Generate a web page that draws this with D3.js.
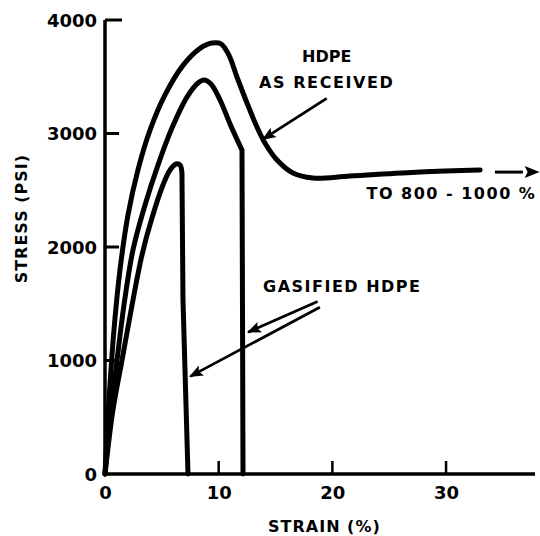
<!DOCTYPE html>
<html>
<head>
<meta charset="utf-8">
<script src="https://cdn.jsdelivr.net/npm/d3@7"></script>
<style>
  body { margin: 0; background: #fff; }
  .lbl { font-family: 'DejaVu Sans', sans-serif; font-weight: bold; fill: #000; }
</style>
</head>
<body>
<div id="chart"></div>
<script>
// tick values
const xTicks = [0, 10, 20, 30];
const yTicks = [0, 1000, 2000, 3000, 4000];

// HDPE as received  [strain %, stress psi]
const asReceived = [
  [0, 0], [0.35, 650], [0.79, 1270], [1.32, 1800], [2.02, 2280], [2.9, 2680],
  [3.96, 3030], [5.28, 3340], [6.86, 3600], [8.36, 3750], [9.41, 3797],
  [10.2, 3790], [10.9, 3690], [11.6, 3500], [12.49, 3269], [13.37, 3057],
  [14.07, 2916], [15.13, 2766], [16.53, 2652], [18.29, 2608], [21.55, 2625],
  [27.71, 2661], [33.0, 2678]
];

// gasified HDPE, two samples: rising part, then the break
const gasifiedA = [
  [0, 0], [0.53, 564], [1.06, 1004], [1.67, 1489], [2.46, 1973], [3.52, 2370],
  [4.66, 2722], [5.89, 3048], [7.21, 3321], [8.18, 3445], [8.71, 3471],
  [9.32, 3436], [10.12, 3295], [11.0, 3084], [12.05, 2854]
];
const gasifiedABreak = [[12.05, 2854], [12.14, 0]];

const gasifiedB = [
  [0, 0], [0.7, 564], [1.5, 1004], [2.38, 1489], [3.25, 1929], [4.13, 2255],
  [5.1, 2546], [5.72, 2678], [6.25, 2731], [6.6, 2722], [6.77, 2652]
];
const gasifiedBBreak = [[6.77, 2652], [6.86, 1533], [7.3, 0]];

// annotation arrows [from, to] in data units
const arrowHdpe = [[19.5, 3310], [13.9, 2950]];
const arrowGasUpper = [[18.7, 1520], [12.6, 1250]];
const arrowGasLower = [[18.9, 1470], [7.5, 860]];
const arrowExtend = [[34.3, 2660], [38.1, 2660]];

const width = 540, height = 536;
const margin = { top: 20, right: 3, bottom: 62, left: 105 };

const svg = d3.select('#chart').append('svg')
  .attr('width', width)
  .attr('height', height);

const x = d3.scaleLinear().domain([0, 38]).range([margin.left, width - margin.right]);
const y = d3.scaleLinear().domain([0, 4000]).range([height - margin.bottom, margin.top]);

// axes
const xAxis = svg.append('g')
  .attr('transform', `translate(0,${y(0)})`)
  .call(d3.axisBottom(x).tickValues(xTicks).tickSize(0).tickFormat(d3.format('d')));
xAxis.select('.domain').remove();
xAxis.selectAll('text').attr('class', 'lbl').attr('font-size', 18).attr('dy', '1.2em');

const yAxis = svg.append('g')
  .attr('transform', `translate(${x(0)},0)`)
  .call(d3.axisLeft(y).tickValues(yTicks).tickSize(0).tickPadding(8).tickFormat(d3.format('d')));
yAxis.select('.domain').remove();
yAxis.selectAll('text').attr('class', 'lbl').attr('font-size', 18).attr('dy', '0.36em');

// axis lines
svg.append('path')
  .attr('d', `M${x(0)},${y(4000)}V${y(0)}H${x(38) - 2}`)
  .attr('fill', 'none').attr('stroke', '#000').attr('stroke-width', 3.5);

// inward ticks
svg.selectAll('.ytick').data(yTicks.filter(d => d > 0)).enter().append('line')
  .attr('x1', x(0)).attr('x2', d => x(0) + (d === 4000 ? 17 : 14))
  .attr('y1', d => y(d)).attr('y2', d => y(d))
  .attr('stroke', '#000').attr('stroke-width', 3);
svg.selectAll('.xtick').data(xTicks.filter(d => d > 0)).enter().append('line')
  .attr('x1', d => x(d)).attr('x2', d => x(d))
  .attr('y1', y(0)).attr('y2', y(0) - 13)
  .attr('stroke', '#000').attr('stroke-width', 2.5);

// curves
const smooth = d3.line().x(d => x(d[0])).y(d => y(d[1])).curve(d3.curveCatmullRom.alpha(0.5));
const straight = d3.line().x(d => x(d[0])).y(d => y(d[1]));

[
  smooth(asReceived),
  smooth(gasifiedA) + straight(gasifiedABreak).replace(/^M[^L]*/, ''),
  smooth(gasifiedB) + straight(gasifiedBBreak).replace(/^M[^L]*/, '')
].forEach(d => {
  svg.append('path')
    .attr('d', d)
    .attr('fill', 'none')
    .attr('stroke', '#000')
    .attr('stroke-width', 5)
    .attr('stroke-linejoin', 'round')
    .attr('stroke-linecap', 'round');
});

// arrowhead
svg.append('defs').append('marker')
  .attr('id', 'head')
  .attr('viewBox', '0 0 10 10')
  .attr('refX', 9).attr('refY', 5)
  .attr('markerWidth', 6).attr('markerHeight', 5)
  .attr('markerUnits', 'strokeWidth')
  .attr('orient', 'auto')
  .append('path')
  .attr('d', 'M0,1 L10,5 L0,9 L2,5 Z')
  .attr('fill', '#000');

[arrowHdpe, arrowGasUpper, arrowGasLower].forEach(a => {
  svg.append('path')
    .attr('d', straight(a))
    .attr('stroke', '#000').attr('stroke-width', 2.8)
    .attr('fill', 'none')
    .attr('marker-end', 'url(#head)');
});
svg.append('path')
  .attr('d', straight(arrowExtend))
  .attr('stroke', '#000').attr('stroke-width', 3)
  .attr('stroke-dasharray', '28,100')
  .attr('fill', 'none')
  .attr('marker-end', 'url(#head)');

// labels
function label(txt, px, py, size, anchor) {
  return svg.append('text').attr('class', 'lbl')
    .attr('x', px).attr('y', py)
    .attr('font-size', size)
    .attr('text-anchor', anchor || 'middle')
    .text(txt);
}
label('HDPE', x(19.5), y(3630), 16);
label('AS RECEIVED', x(19.5), y(3400), 16).attr('letter-spacing', 1.6);
label('TO 800 - 1000 %', x(23), y(2420), 16, 'start').attr('letter-spacing', 1.5);
label('GASIFIED HDPE', x(13.9), y(1600), 16, 'start').attr('letter-spacing', 1.5);

label('STRAIN (%)', x(19.3), height - 4, 16).attr('letter-spacing', 1);
svg.append('text').attr('class', 'lbl')
  .attr('transform', `translate(27,${y(2250)}) rotate(-90)`)
  .attr('font-size', 16)
  .attr('text-anchor', 'middle')
  .attr('letter-spacing', 1)
  .text('STRESS (PSI)');
</script>
</body>
</html>
